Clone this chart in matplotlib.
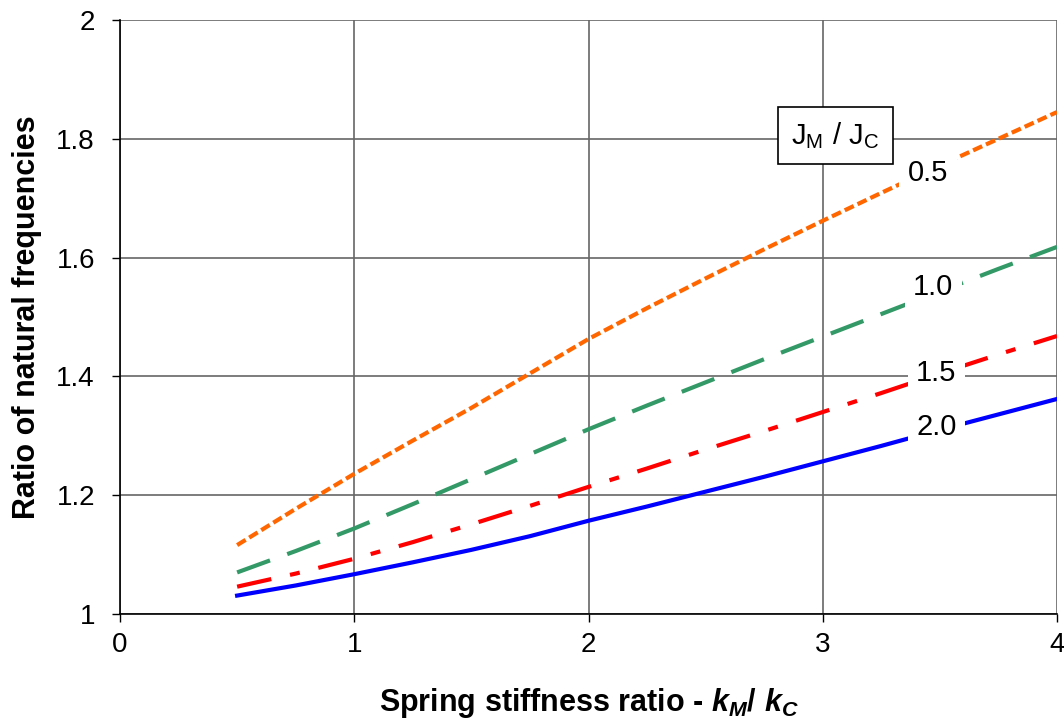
import matplotlib
matplotlib.use("Agg")
import matplotlib.pyplot as plt

plt.rcParams['font.family'] = ['Liberation Sans', 'DejaVu Sans']
plt.rcParams['mathtext.fontset'] = 'custom'
plt.rcParams['mathtext.it'] = 'Liberation Sans:italic:bold'
plt.rcParams['mathtext.rm'] = 'Liberation Sans:bold'
plt.rcParams['mathtext.bf'] = 'Liberation Sans:bold'

x = [0.5, 0.75, 1.0, 1.25, 1.5, 1.75, 2.0, 2.25, 2.5, 2.75, 3.0, 3.25, 3.5, 3.75, 4.0]
ratio_05 = [1.116, 1.177, 1.236, 1.292, 1.347, 1.405, 1.463, 1.515, 1.565, 1.614,
            1.662, 1.709, 1.755, 1.800, 1.845]
ratio_10 = [1.070, 1.106, 1.144, 1.185, 1.227, 1.269, 1.311, 1.351, 1.390, 1.429,
            1.467, 1.505, 1.543, 1.581, 1.618]
ratio_15 = [1.046, 1.068, 1.093, 1.121, 1.151, 1.182, 1.214, 1.245, 1.277, 1.308,
            1.340, 1.372, 1.405, 1.437, 1.468]
ratio_20 = [1.031, 1.048, 1.067, 1.087, 1.108, 1.131, 1.157, 1.181, 1.206, 1.231,
            1.257, 1.283, 1.310, 1.336, 1.362]
labels = ["0.5", "1.0", "1.5", "2.0"]
label_pos = [(3.449, 1.743), (3.472, 1.550), (3.485, 1.405), (3.487, 1.315)]

xticks = [0, 1, 2, 3, 4]
yticks = [1, 1.2, 1.4, 1.6, 1.8, 2]
yticklabels = ["1", "1.2", "1.4", "1.6", "1.8", "2"]

fig = plt.figure(figsize=(10.64, 7.21), dpi=100)
ax = fig.add_axes([120/1064, 1-614/721, (1057-120)/1064, (614-20)/721])

lw = 3.0
ax.plot(x, ratio_05, color='#FF6600', lw=lw, dashes=(2.4, 1.0), zorder=3)
ax.plot(x, ratio_10, color='#339966', lw=lw, dashes=(8.4, 4.4), zorder=3)
ax.plot(x, ratio_15, color='#FF0000', lw=lw, dashes=(8.4, 4.6, 2.4, 4.6), zorder=3)
ax.plot(x, ratio_20, color='#0000FF', lw=lw, zorder=3)

for lab, (lx, ly) in zip(labels, label_pos):
    ax.text(lx, ly, lab, fontsize=21, ha='center', va='center', zorder=5,
            bbox=dict(facecolor='white', edgecolor='none', pad=6))

ax.text(3.053, 1.8056, r'$\mathregular{J_M\ /\ J_C}$', fontsize=21, ha='center', va='center',
        zorder=6, bbox=dict(facecolor='white', edgecolor='black', linewidth=1.2,
                            boxstyle='square,pad=0.45'))

ax.set_xlim(0, 4)
ax.set_ylim(1, 2)
ax.set_xticks(xticks)
ax.set_xticklabels([str(t) for t in xticks])
ax.set_yticks(yticks)
ax.set_yticklabels(yticklabels)
ax.tick_params(axis='both', direction='out', length=6, width=1, labelsize=20)
ax.tick_params(axis='x', pad=7)
ax.tick_params(axis='y', pad=12)
ax.grid(True, color='#666666', linewidth=1.2, zorder=0)
ax.set_axisbelow(True)

for s in ['top', 'right']:
    ax.spines[s].set_visible(False)
for s in ['left', 'bottom']:
    ax.spines[s].set_color('black')
    ax.spines[s].set_linewidth(1.2)

ax.set_xlabel(r'Spring stiffness ratio - $\mathit{k_M/\ k_C}$', fontsize=22,
              fontweight='bold', labelpad=20)
ax.set_ylabel('Ratio of natural frequencies', fontsize=22, fontweight='bold', labelpad=10)

fig.savefig('out.png', dpi=100)
